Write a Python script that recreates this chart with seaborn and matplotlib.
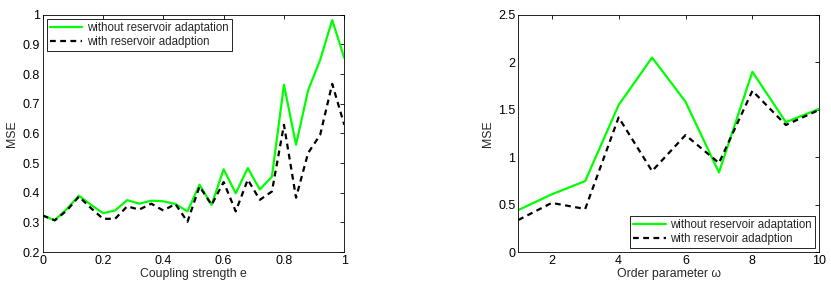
import numpy as np
import pandas as pd
import matplotlib
matplotlib.use('Agg')
import matplotlib.pyplot as plt
import seaborn as sns
from matplotlib.ticker import FormatStrFormatter

# --- Data ---
coupling = [0.00, 0.04, 0.08, 0.12, 0.16, 0.20, 0.24, 0.28, 0.32, 0.36, 0.40, 0.44, 0.48,
            0.52, 0.56, 0.60, 0.64, 0.68, 0.72, 0.76, 0.80, 0.84, 0.88, 0.92, 0.96, 1.00]
mse_coupling_without = [0.323, 0.307, 0.345, 0.390, 0.359, 0.331, 0.340, 0.375, 0.363, 0.373,
                        0.371, 0.362, 0.337, 0.427, 0.359, 0.479, 0.398, 0.483, 0.411, 0.454,
                        0.764, 0.562, 0.745, 0.848, 0.982, 0.854]
mse_coupling_with = [0.323, 0.307, 0.340, 0.387, 0.348, 0.312, 0.312, 0.354, 0.343, 0.363,
                     0.340, 0.362, 0.302, 0.421, 0.359, 0.436, 0.337, 0.444, 0.376, 0.404,
                     0.629, 0.383, 0.534, 0.595, 0.767, 0.629]

order = [1, 2, 3, 4, 5, 6, 7, 8, 9, 10]
mse_order_without = [0.445, 0.61, 0.75, 1.55, 2.05, 1.585, 0.84, 1.90, 1.37, 1.51]
mse_order_with = [0.34, 0.52, 0.456, 1.42, 0.855, 1.234, 0.94, 1.70, 1.34, 1.50]

label_without = 'without reservoir adaptation'
label_with = 'with reservoir adadption'

sns.set_style('white')
plt.rcParams['font.family'] = ['Liberation Sans', 'DejaVu Sans']
plt.rcParams['font.size'] = 8.5

fig = plt.figure(figsize=(8.31, 2.90), dpi=100)
ax1 = fig.add_axes([0.0514, 0.131, 0.3629, 0.818])
ax2 = fig.add_axes([0.6237, 0.130, 0.3622, 0.819])

palette = {label_without: '#00ff00', label_with: 'black'}
dashes = {label_without: '', label_with: (2.6, 2)}


def draw(ax, x, y_without, y_with):
    df = pd.DataFrame({
        'x': list(x) * 2,
        'mse': list(y_without) + list(y_with),
        'series': [label_without] * len(x) + [label_with] * len(x),
    })
    sns.lineplot(data=df, x='x', y='mse', hue='series', style='series',
                 palette=palette, dashes=dashes, linewidth=1.6, ax=ax, sort=False)


legend_kw = dict(handlelength=2.8, fontsize=8.3, fancybox=False, edgecolor='black',
                 framealpha=1, borderaxespad=0.35, borderpad=0.3,
                 labelspacing=0.15, handletextpad=0.4)

# --- Left panel: coupling strength ---
draw(ax1, coupling, mse_coupling_without, mse_coupling_with)
ax1.set_xlim(0, 1)
ax1.set_ylim(0.2, 1.0)
ax1.set_xticks(np.arange(0, 1.01, 0.2))
ax1.set_yticks(np.arange(0.2, 1.001, 0.1))
ax1.set_xlabel('Coupling strength e', labelpad=1, fontsize=8.8)
ax1.set_ylabel('MSE', labelpad=3, fontsize=8.8)
ax1.legend(loc='upper left', **legend_kw)

# --- Right panel: order parameter ---
draw(ax2, order, mse_order_without, mse_order_with)
ax2.set_xlim(1, 10)
ax2.set_ylim(0, 2.5)
ax2.set_xticks([2, 4, 6, 8, 10])
ax2.set_yticks(np.arange(0, 2.51, 0.5))
ax2.set_xlabel('Order parameter ω', labelpad=1, fontsize=8.8)
ax2.set_ylabel('MSE', labelpad=3, fontsize=8.8)
ax2.legend(loc='lower right', **legend_kw)

for ax in (ax1, ax2):
    ax.xaxis.set_major_formatter(FormatStrFormatter('%g'))
    ax.yaxis.set_major_formatter(FormatStrFormatter('%g'))
    ax.tick_params(direction='in', length=3, width=0.6, top=True, right=True,
                   labelsize=9, pad=2, colors='black')
    for s in ax.spines.values():
        s.set_visible(True)
        s.set_color('black')
        s.set_linewidth(0.6)
    ax.legend_.get_frame().set_linewidth(0.6)

fig.savefig('out.png', dpi=100)
